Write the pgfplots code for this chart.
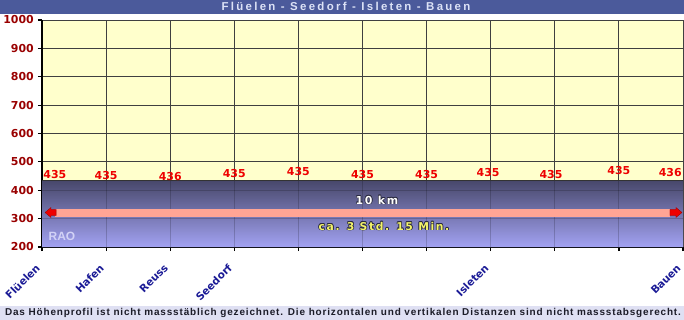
\documentclass[border=0pt]{standalone}
\usepackage{pgfplots}
\pgfplotsset{compat=1.18}
\usepackage{fontspec}
\setmainfont{DejaVu Sans}
\newfontfamily\titlefont{Liberation Sans}[LetterSpace=20]
\newfontfamily\footfont{Liberation Sans}[LetterSpace=8.5]
\newfontfamily\spacedfont{DejaVu Sans}[LetterSpace=15]
\newfontfamily\raofont{Liberation Sans}
\definecolor{titlebar}{HTML}{4B5A9B}
\definecolor{titletext}{HTML}{DCE2F6}
\definecolor{footerbg}{HTML}{DFE0F3}
\definecolor{footertext}{HTML}{1C1C28}
\definecolor{bgyellow}{HTML}{FFFFCC}
\definecolor{ylab}{HTML}{990000}
\definecolor{xlab}{HTML}{1B1B96}
\definecolor{labred}{HTML}{EE0000}
\definecolor{gradtop}{HTML}{47476A}
\definecolor{gradbot}{HTML}{A2A2F2}
\definecolor{barpink}{HTML}{FFA595}
\definecolor{arrowred}{HTML}{EE0000}
\definecolor{raocol}{HTML}{D2D2F6}
\definecolor{darkout}{HTML}{2A2A40}
\definecolor{yellowtext}{HTML}{F4F46A}
\newcommand\otext[3]{%
  \rlap{\kern-0.7bp\textcolor{#1}{#3}}%
  \rlap{\kern0.7bp\textcolor{#1}{#3}}%
  \rlap{\raisebox{0.7bp}{\textcolor{#1}{#3}}}%
  \rlap{\raisebox{-0.7bp}{\textcolor{#1}{#3}}}%
  \rlap{\kern0.5bp\raisebox{0.5bp}{\textcolor{#1}{#3}}}%
  \rlap{\kern-0.5bp\raisebox{-0.5bp}{\textcolor{#1}{#3}}}%
  \rlap{\kern0.5bp\raisebox{-0.5bp}{\textcolor{#1}{#3}}}%
  \rlap{\kern-0.5bp\raisebox{0.5bp}{\textcolor{#1}{#3}}}%
  \textcolor{#2}{#3}}
\begin{document}
\begin{tikzpicture}
\useasboundingbox (0,0) rectangle (684bp,-320bp);
\fill[titlebar] (0,0) rectangle (684bp,-13.5bp);
\node[text=titletext, font=\titlefont\bfseries\fontsize{11.5}{11.5}\selectfont, inner sep=0pt] at (346bp,-6.8bp) {Flüelen - Seedorf - Isleten - Bauen};
\fill[footerbg] (0,-306bp) rectangle (684bp,-320bp);
\node[text=footertext, font=\footfont\bfseries\fontsize{10}{10}\selectfont, inner sep=0pt] at (343bp,-313bp) {Das Höhenprofil ist nicht massstäblich gezeichnet. Die horizontalen und vertikalen Distanzen sind nicht massstabsgerecht.};
\begin{axis}[
  at={(42bp,-247bp)}, anchor=south west,
  scale only axis, width=641bp, height=227bp,
  xmin=0, xmax=10, ymin=200, ymax=1000,
  axis x line*=bottom, axis y line*=left,
  axis line style={-, line width=1.3bp, black},
  xtick={0,...,10},
  xticklabels={Flüelen,Hafen,Reuss,Seedorf,,,,Isleten,,,Bauen},
  ytick={200,300,...,1000},
  tick align=outside, major tick length=4bp,
  tick style={black, line width=1.2bp},
  grid=major, major grid style={black!75, line width=0.9bp},
  axis background/.style={fill=bgyellow},
  /pgf/number format/assume math mode=true,
  /pgf/number format/1000 sep={},
  yticklabel style={font=\bfseries\fontsize{11}{11}\selectfont, text=ylab, inner sep=4bp},
  xticklabel style={font=\bfseries\fontsize{10.5}{10.5}\selectfont, text=xlab, anchor=east, inner sep=0pt, xshift=-4bp, yshift=-15bp, rotate=45},
]
\addplot[draw=none, top color=gradtop, bottom color=gradbot] coordinates {(0,200) (0,435) (1.5,435) (1.5,436) (2.5,436) (2.5,435) (9.5,435) (9.5,436) (10,436) (10,200)} -- cycle;
\pgfplotsinvokeforeach{1,...,9}{\draw[black, opacity=0.18, line width=0.9bp] (axis cs:#1,200) -- (axis cs:#1,435);}
\draw[black, opacity=0.18, line width=0.9bp] (axis cs:0,300) -- (axis cs:10,300);
\draw[black, opacity=0.18, line width=0.9bp] (axis cs:0,400) -- (axis cs:10,400);
\addplot[const plot mark mid, black!80, line width=0.9bp] coordinates {(0,435) (1,435) (2,436) (3,435) (4,435) (5,435) (6,435) (7,435) (8,435) (9,435) (10,436)};
\addplot[barpink, line width=8bp] coordinates {(0.2,321.6) (9.8,321.6)};
\addplot[fill=arrowred, draw=red!60!black, line width=0.3bp] coordinates {(0.047,321.6) (0.14,339.2) (0.14,332.2) (0.22,332.2) (0.22,311) (0.14,311) (0.14,304)} -- cycle;
\addplot[fill=arrowred, draw=red!60!black, line width=0.3bp] coordinates {(9.984,321.6) (9.89,339.2) (9.89,332.2) (9.797,332.2) (9.797,311) (9.89,311) (9.89,304)} -- cycle;
\addplot[draw=none, nodes near coords, point meta=explicit symbolic, nodes near coords align={center},
  every node near coord/.append style={font=\bfseries\fontsize{11}{11}\selectfont, text=labred, inner sep=0pt}]
  coordinates {(0.2,456.2)[435] (1,452.7)[435] (2,449.5)[436] (3,458)[435] (4,464.3)[435] (5,454.8)[435] (6,454.8)[435] (6.96,461.9)[435] (7.94,455.5)[435] (9,468.9)[435] (9.8,461.9)[436]};
\node[font=\spacedfont\bfseries\fontsize{11}{11}\selectfont, inner sep=0pt] at (axis cs:5.226,365.6) {\otext{darkout}{white}{10 km}};
\node[font=\spacedfont\bfseries\fontsize{10.8}{10.8}\selectfont, inner sep=0pt] at (axis cs:5.335,274) {\otext{darkout}{yellowtext}{ca. 3 Std. 15 Min.}};
\node[font=\raofont\bfseries\fontsize{12}{12}\selectfont, text=raocol, inner sep=0pt] at (axis cs:0.312,238.8) {RAO};
\end{axis}
\end{tikzpicture}
\end{document}
